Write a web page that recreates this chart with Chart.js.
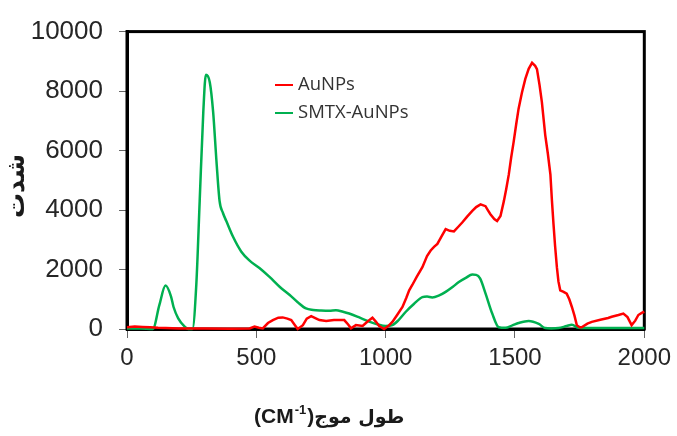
<!DOCTYPE html>
<html>
<head>
<meta charset="utf-8">
<script src="https://cdn.jsdelivr.net/npm/chart.js@4.4.1/dist/chart.umd.min.js"></script>
<style>
html,body{margin:0;padding:0;background:#fff;}
canvas{display:block;}
</style>
</head>
<body>
<canvas id="c" width="677" height="436"></canvas>
<script>
// ---- data ----
const seriesNames = ["AuNPs", "SMTX-AuNPs"];
const xTicks = [0, 500, 1000, 1500, 2000];
const yTicks = [0, 2000, 4000, 6000, 8000, 10000];

const auX = [0,30,60,90,120,150,200,300,400,474,493,510,525,545,564,585,602,620,635,650,660,680,695,712,730,744,770,800,821,840,855,866,885,911,930,949,962,975,994,1010,1026,1045,1065,1080,1091,1103,1120,1142,1160,1174,1187,1200,1215,1232,1248,1264,1280,1296,1315,1335,1350,1367,1386,1395,1405,1420,1431,1444,1457,1466,1476,1485,1495,1505,1514,1527,1540,1553,1566,1578,1585,1595,1604,1617,1627,1637,1643,1649,1655,1662,1668,1675,1688,1700,1710,1720,1730,1739,1750,1758,1780,1797,1830,1860,1874,1900,1919,1935,1951,1965,1977,1990,2000];
const auY = [60,80,70,60,40,30,20,20,10,20,80,40,20,200,300,380,390,350,300,120,0,130,350,430,360,300,270,300,300,300,150,23,130,100,250,380,250,100,0,100,240,480,740,1050,1300,1480,1750,2080,2450,2640,2760,2860,3100,3360,3300,3280,3430,3580,3780,3970,4100,4190,4130,4000,3860,3700,3630,3800,4300,4700,5190,5750,6300,6900,7410,7950,8410,8750,8950,8850,8740,8200,7630,6520,5900,5190,4300,3520,2800,2080,1600,1300,1250,1190,1000,740,450,130,60,57,180,240,310,370,410,470,520,400,130,280,470,540,580];

const smX = [0,50,100,125,149,170,180,198,223,236,253,268,281,295,305,320,333,346,358,371,384,410,442,474,512,551,590,628,660,692,720,750,782,808,835,859,900,936,970,1000,1026,1050,1078,1110,1142,1160,1180,1205,1232,1260,1283,1310,1335,1350,1365,1386,1412,1437,1463,1490,1514,1553,1592,1617,1640,1668,1700,1720,1746,1800,1900,2000];
const smY = [20,20,0,800,1460,1100,740,360,80,0,0,1500,4300,7300,8550,8300,7300,5630,4300,3900,3630,3100,2600,2300,2050,1750,1420,1150,900,690,640,620,610,630,580,520,380,250,150,100,130,300,580,850,1070,1090,1060,1120,1250,1420,1580,1720,1830,1820,1700,1200,520,60,40,120,200,270,170,30,20,30,100,140,40,30,30,30];

const yTitle = "شدت";
const xTitleArabic = "طول موج";
const xTitleUnit = "CM";
const xTitleSup = "-1";

function pts(xs, ys){ return xs.map((x,i)=>({x:x, y:ys[i]})); }

const AREA = {left:127, right:645, top:29, bottom:329};

const framePlugin = {
  id:'frame',
  beforeDatasetsDraw(chart){
    const a = chart.chartArea, ctx = chart.ctx;
    ctx.save();
    ctx.strokeStyle = '#000';
    ctx.lineWidth = 3;
    ctx.strokeRect(a.left, a.top, a.right - a.left, a.bottom - a.top);
    ctx.restore();
  },
  afterDraw(chart){
    const ctx = chart.ctx;
    ctx.save();
    // legend
    const ds = chart.data.datasets;
    ctx.font = '18.5px "Open Sans"';
    ctx.textBaseline = 'middle';
    ctx.textAlign = 'left';
    ds.forEach((d,i)=>{
      const y = 85 + i*28;
      ctx.strokeStyle = d.borderColor;
      ctx.lineWidth = 2;
      ctx.beginPath(); ctx.moveTo(275,y); ctx.lineTo(293,y); ctx.stroke();
      ctx.fillStyle = '#333333';
      ctx.fillText(d.label, 298, y);
    });
    // y title
    ctx.save();
    ctx.translate(17, 186);
    ctx.rotate(-Math.PI/2);
    ctx.font = 'bold 25px "DejaVu Sans"';
    ctx.fillStyle = '#1a1a1a';
    ctx.textAlign = 'center';
    ctx.textBaseline = 'middle';
    ctx.fillText(yTitle, 0, 0);
    ctx.restore();
    // x title: visual order "(CM^-1)" then Arabic
    ctx.fillStyle = '#1a1a1a';
    ctx.textBaseline = 'alphabetic';
    ctx.textAlign = 'left';
    let x = 254, base = 423;
    ctx.font = 'bold 21px "Liberation Sans"';
    ctx.fillText('(' + xTitleUnit, x, base);
    x += ctx.measureText('(' + xTitleUnit).width + 1;
    ctx.font = 'bold 13px "Liberation Sans"';
    ctx.fillText(xTitleSup, x, base - 9);
    x += ctx.measureText(xTitleSup).width + 1;
    ctx.font = 'bold 21px "Liberation Sans"';
    ctx.fillText(')', x, base);
    x += ctx.measureText(')').width;
    ctx.font = 'bold 19px "DejaVu Sans"';
    ctx.fillText(xTitleArabic, x, base);
    ctx.restore();
  }
};

new Chart(document.getElementById('c'), {
  type: 'line',
  data: {
    datasets: [
      { label: seriesNames[0], data: pts(auX, auY), borderColor: '#ff0000', backgroundColor:'#ff0000',
        borderWidth: 2.5, pointRadius: 0, tension: 0, clip: 6 },
      { label: seriesNames[1], data: pts(smX, smY), borderColor: '#00b050', backgroundColor:'#00b050',
        borderWidth: 2.5, pointRadius: 0, cubicInterpolationMode: 'monotone', clip: 6 }
    ]
  },
  options: {
    responsive: false,
    animation: false,
    layout: { padding: { top: AREA.top, right: 677 - AREA.right, left: 0, bottom: 0 } },
    plugins: { legend: { display: false }, tooltip: { enabled: false } },
    scales: {
      x: {
        type: 'linear', min: 0, max: 2000,
        afterBuildTicks(s){ s.ticks = xTicks.map(v=>({value:v})); },
        afterFit(s){ s.height = 436 - AREA.bottom; },
        ticks: { font: { family: '"Liberation Sans"', size: 24 }, color: '#262626', padding: 6, maxRotation: 0,
                 callback: v => String(v) },
        grid: { drawOnChartArea: false, drawTicks: true, tickLength: 9, color: '#666', lineWidth: 1 },
        border: { display: true, color: '#000', width: 3 }
      },
      y: {
        min: 0, max: 10000,
        afterBuildTicks(s){ s.ticks = yTicks.map(v=>({value:v})); },
        afterFit(s){ s.width = AREA.left; },
        ticks: { font: { family: '"Liberation Sans"', size: 26 }, color: '#262626', padding: 16,
                 callback: v => String(v) },
        grid: { drawOnChartArea: false, drawTicks: true, tickLength: 8, color: '#666', lineWidth: 1 },
        border: { display: true, color: '#000', width: 3 }
      }
    }
  },
  plugins: [framePlugin]
});
</script>
</body>
</html>
